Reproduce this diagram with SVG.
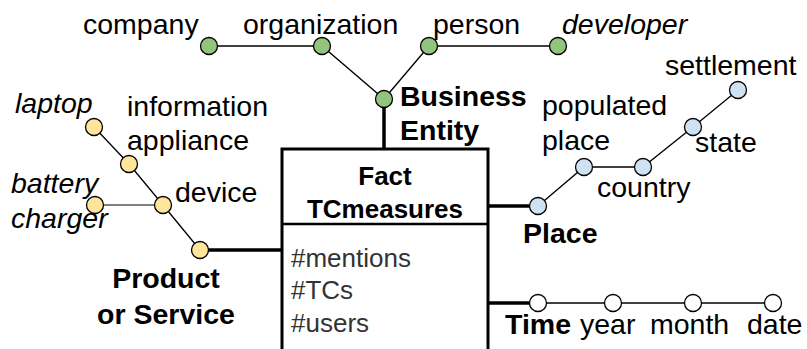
<svg xmlns="http://www.w3.org/2000/svg" width="807" height="349" viewBox="0 0 807 349">
<style>
text{font-family:"Liberation Sans",Arial,sans-serif;font-size:28.5px;fill:#000}
.i{font-style:italic}
.b{font-weight:bold}
.f{font-weight:bold;font-size:26px}
.m{font-size:26px;fill:#333}
.n{stroke:#000;stroke-width:1.3}
.g{fill:#93c47d}.y{fill:#ffe599}.l{fill:#cfe2f3}.w{fill:#fff}
.c{stroke:#000;stroke-width:1.3;fill:none}
.t{stroke:#000;stroke-width:3.5;fill:none}
</style>
<rect width="807" height="349" fill="#fff"/>
<g id="connectors">
<path class="c" d="M209 46H322L384 99L429 46H558"/>
<path class="t" d="M384 99V149"/>
<path class="c" d="M94 127L129 164L163 205L200 250"/>
<path class="c" d="M95 205H163" style="stroke:#555"/>
<path class="t" d="M200 250H282"/>
<path class="c" d="M538 206L584 167H643L693 127L738 90"/>
<path class="t" d="M488 206H538"/>
<path class="c" d="M538 303H773"/>
<path class="t" d="M488 303H538"/>
</g>
<g id="fact">
<rect x="282" y="149" width="206" height="220" fill="#fff" stroke="#000" stroke-width="3"/>
<line x1="282" y1="224" x2="488" y2="224" stroke="#000" stroke-width="2.5"/>
<text class="f" x="385" y="185" text-anchor="middle">Fact</text>
<text class="f" x="385" y="218" text-anchor="middle">TCmeasures</text>
<text class="m" x="291" y="267">#mentions</text>
<text class="m" x="291" y="299">#TCs</text>
<text class="m" x="291" y="332">#users</text>
</g>
<g id="business">
<circle class="n g" cx="209" cy="46" r="8.5"/>
<circle class="n g" cx="322" cy="46" r="8.5"/>
<circle class="n g" cx="384" cy="99" r="8.5"/>
<circle class="n g" cx="429" cy="46" r="8.5"/>
<circle class="n g" cx="558" cy="46" r="8.5"/>
<text x="83" y="34">company</text>
<text x="243" y="34">organization</text>
<text x="433" y="34">person</text>
<text class="i" x="562" y="34">developer</text>
<text class="b" x="400" y="106">Business</text>
<text class="b" x="400" y="140">Entity</text>
</g>
<g id="product">
<circle class="n y" cx="94" cy="127" r="8.5"/>
<circle class="n y" cx="129" cy="164" r="8.5"/>
<circle class="n y" cx="163" cy="205" r="8.5"/>
<circle class="n y" cx="95" cy="205" r="8.5"/>
<circle class="n y" cx="200" cy="250" r="8.5"/>
<text class="i" x="15" y="113">laptop</text>
<text x="127" y="116">information</text>
<text x="127" y="150">appliance</text>
<text class="i" x="11" y="193">battery</text>
<text class="i" x="11" y="228">charger</text>
<text x="175" y="202">device</text>
<text class="b" x="166" y="288" text-anchor="middle">Product</text>
<text class="b" x="166" y="324" text-anchor="middle">or Service</text>
</g>
<g id="place">
<circle class="n l" cx="538" cy="206" r="8.5"/>
<circle class="n l" cx="584" cy="167" r="8.5"/>
<circle class="n l" cx="643" cy="167" r="8.5"/>
<circle class="n l" cx="693" cy="127" r="8.5"/>
<circle class="n l" cx="738" cy="90" r="8.5"/>
<text x="665" y="75">settlement</text>
<text x="542" y="115">populated</text>
<text x="542" y="150">place</text>
<text x="695" y="152">state</text>
<text x="597" y="197">country</text>
<text class="b" x="523" y="243">Place</text>
</g>
<g id="time">
<circle class="n w" cx="538" cy="303" r="8.5"/>
<circle class="n w" cx="613" cy="303" r="8.5"/>
<circle class="n w" cx="693" cy="303" r="8.5"/>
<circle class="n w" cx="773" cy="303" r="8.5"/>
<text class="b" x="505" y="334">Time</text>
<text x="580" y="334">year</text>
<text x="650" y="334">month</text>
<text x="747" y="334">date</text>
</g>
</svg>
